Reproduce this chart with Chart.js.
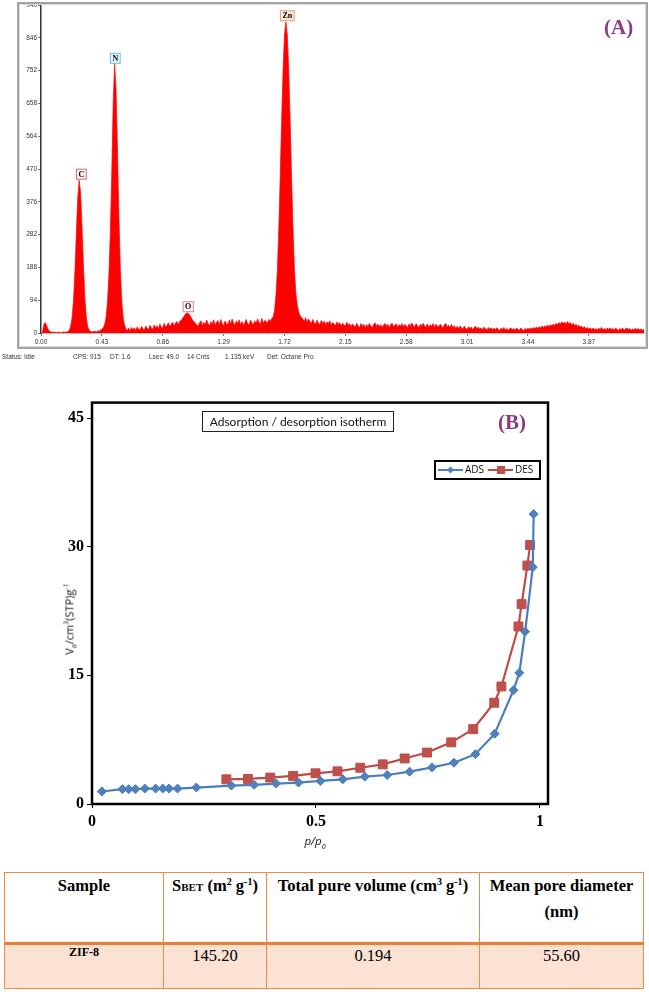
<!DOCTYPE html>
<html>
<head>
<meta charset="utf-8">
<script src="https://cdn.jsdelivr.net/npm/chart.js@4.4.1/dist/chart.umd.min.js"></script>
<style>
  body { margin: 0; background: #fff; width: 649px; height: 992px; position: relative; overflow: hidden; }
  .abs { position: absolute; }
  #frameA { left: 17px; top: 2px; width: 627px; height: 343px; border: 2px solid #a3a3a3; box-shadow: inset 0 0 0 1px #dcdcdc; }
  #status span { position: absolute; top: 353px; font: 6.5px "Liberation Sans", sans-serif; color: #333; white-space: nowrap; }
  .tag { font: bold 21px "Liberation Serif", serif; color: #8d3b86; }
  #isoTitle { left: 202px; top: 411px; width: 190px; height: 19px; border: 1px solid #222; font: 12px Lato, sans-serif; line-height: 19px; text-align: center; color: #111; }
  #yTitle { left: 70px; top: 619px; transform: translate(-50%, -50%) rotate(-90deg); font: 11px "Open Sans", sans-serif; white-space: nowrap; color: #111; }
  #yTitle sup, #xTitle sub, #yTitle sub { font-size: 7px; }
  #xTitle { left: 315px; top: 842px; transform: translate(-50%, -50%); font: italic 11.5px "Open Sans", sans-serif; color: #111; }
  #tbl { left: 4px; top: 872px; width: 640px; border-collapse: collapse; color: #000; }
  #tbl td { font-family: "Liberation Serif", "Times New Roman", serif; border: 1.5px solid #f08a46; text-align: center; vertical-align: top; padding: 0; }
  #tbl tr.hd td { height: 69px; font-weight: bold; font-size: 16.5px; line-height: 26px; background: #fff; border-bottom: 3.5px solid #ee7e35; }
  #tbl tr.dt td { height: 42px; font-size: 16.5px; line-height: 22px; background: #fbe2d3; }
  #tbl tr.dt td.zif { font-weight: bold; font-size: 12px; line-height: 12px; padding-top: 1px; }
  #tbl sup { font-size: 10px; vertical-align: 6px; line-height: 0; }
  .sc { font-size: 11px; }
</style>
</head>
<body>

<canvas id="edsCanvas" class="abs" width="649" height="350" style="left:0;top:0"></canvas>
<div id="frameA" class="abs"></div>
<div class="abs tag" style="left:604px;top:15px">(A)</div>
<div id="status"></div>

<canvas id="isoCanvas" class="abs" width="649" height="470" style="left:0;top:390px"></canvas>
<div id="isoTitle" class="abs">Adsorption / desorption isotherm</div>
<div class="abs tag" style="left:498px;top:410px">(B)</div>
<div id="yTitle" class="abs">V<sub><i>a</i></sub>/cm<sup>3</sup>(STP)g<sup>-1</sup></div>
<div id="xTitle" class="abs">p/p<sub>0</sub></div>

<table id="tbl" class="abs">
  <tr class="hd">
    <td style="width:158px">Sample</td>
    <td style="width:102px">S<span class="sc">BET</span> (m<sup>2</sup> g<sup>-1</sup>)</td>
    <td style="width:212px">Total pure volume (cm<sup>3</sup> g<sup>-1</sup>)</td>
    <td>Mean pore diameter<br>(nm)</td>
  </tr>
  <tr class="dt" id="dataRow"></tr>
</table>

<script>
// ---- (A) EDS spectrum, 0.01 keV per channel, one row = 0.1 keV ----
const edsStartKeV = 0;
const edsStepKeV = 0.01;
const edsCounts = [
  0, 0, 24, 30, 21, 11, 5, 3, 2, 3,              // 0.00
  2, 1, 3, 2, 1, 2, 3, 2, 3, 4,                  // 0.10
  8, 20, 45, 95, 180, 290, 390, 438, 400, 300,   // 0.20
  190, 100, 45, 18, 8, 4, 3, 4, 5, 3,            // 0.30
  6, 5, 8, 10, 15, 25, 45, 90, 170, 290,         // 0.40
  460, 660, 770, 700, 530, 340, 190, 95, 45, 22, // 0.50
  12, 7, 14, 6, 16, 9, 15, 7, 18, 11,            // 0.60
  9, 19, 12, 8, 20, 13, 10, 22, 14, 11,          // 0.70
  23, 14, 21, 12, 26, 16, 15, 28, 17, 22,        // 0.80
  29, 18, 25, 31, 19, 29, 33, 23, 34, 36,        // 0.90
  42, 48, 54, 58, 56, 52, 45, 38, 32, 28,        // 1.00
  24, 19, 29, 35, 21, 31, 23, 37, 27, 20,        // 1.10
  33, 24, 38, 22, 30, 36, 23, 39, 27, 21,        // 1.20
  34, 28, 23, 37, 25, 40, 29, 22, 35, 26,        // 1.30
  38, 24, 33, 21, 30, 39, 26, 23, 37, 29,        // 1.40
  24, 35, 27, 40, 30, 25, 42, 28, 36, 33,        // 1.50
  29, 39, 33, 42, 45, 65, 110, 180, 300, 447,    // 1.60
  609, 753, 854, 892, 854, 753, 609, 447, 303, 187, // 1.70
  115, 80, 60, 50, 44, 40, 34, 44, 31, 40,       // 1.80
  33, 27, 39, 30, 25, 37, 28, 24, 36, 27,        // 1.90
  34, 23, 32, 26, 35, 22, 30, 25, 21, 32,        // 2.00
  24, 30, 20, 28, 23, 19, 31, 22, 27, 18,        // 2.10
  26, 21, 17, 28, 20, 16, 27, 19, 25, 15,        // 2.20
  24, 18, 27, 20, 16, 25, 29, 19, 26, 17,        // 2.30
  24, 16, 23, 27, 19, 25, 15, 24, 28, 18,        // 2.40
  23, 26, 16, 24, 19, 27, 17, 25, 20, 15,        // 2.50
  26, 19, 29, 21, 17, 27, 20, 16, 25, 19,        // 2.60
  28, 20, 17, 26, 15, 24, 19, 27, 16, 25,        // 2.70
  20, 17, 26, 19, 15, 24, 27, 18, 22, 16,        // 2.80
  25, 15, 21, 13, 19, 12, 20, 15, 11, 19,        // 2.90
  14, 10, 18, 13, 17, 9, 16, 19, 12, 17,         // 3.00
  11, 15, 9, 17, 12, 8, 16, 11, 15, 9,           // 3.10
  14, 9, 15, 11, 7, 14, 10, 16, 8, 13,           // 3.20
  8, 12, 14, 9, 13, 7, 15, 10, 8, 14,            // 3.30
  10, 7, 13, 9, 14, 10, 15, 11, 16, 12,          // 3.40
  17, 13, 18, 14, 20, 15, 21, 17, 23, 18,        // 3.50
  24, 20, 26, 21, 28, 23, 30, 25, 32, 27,        // 3.60
  31, 26, 33, 25, 30, 23, 28, 21, 25, 19,        // 3.70
  22, 17, 19, 14, 18, 12, 16, 11, 15, 10,        // 3.80
  14, 9, 13, 8, 14, 10, 16, 9, 13, 8,            // 3.90
  14, 10, 15, 9, 13, 8, 14, 10, 7, 13,           // 4.00
  9, 14, 8, 12, 15, 9, 13, 7, 12, 8,             // 4.10
  14, 9, 13, 8, 12, 7, 11, 13, 8, 12             // 4.20
];
const edsTickKeV = [0, 0.43, 0.86, 1.29, 1.72, 2.15, 2.58, 3.01, 3.44, 3.87];
const edsCountTicks = [0, 94, 188, 282, 376, 470, 564, 658, 752, 846, 940];
const peakNames = ['C', 'N', 'O', 'Zn'];
const peakKeV = [0.285, 0.525, 1.04, 1.74];
const peakTops = [438, 770, 58, 892];
const peakBorder = ['#d86b6b', '#6cc3d6', '#e08585', '#e2a172'];
const peakFill = ['#fff2f2', '#e6f7fc', '#fff4f4', '#fbe6d6'];

const statusText = ['Status: Idle', 'CPS: 915', 'DT: 1.6', 'Lsec: 49.0', '14 Cnts', '1.135 keV', 'Det: Octane Pro'];
const statusLeft = [2, 73, 110, 149, 187, 225, 267];

// ---- (B) N2 isotherm ----
const adsP = [0.022, 0.068, 0.082, 0.097, 0.118, 0.142, 0.158, 0.172, 0.191, 0.233, 0.311, 0.362, 0.411, 0.461,
              0.51, 0.56, 0.609, 0.659, 0.709, 0.759, 0.808, 0.856, 0.899, 0.941, 0.954, 0.967, 0.984, 0.986];
const adsV = [1.46, 1.73, 1.73, 1.73, 1.8, 1.8, 1.8, 1.8, 1.8, 1.92, 2.15, 2.23, 2.38, 2.5,
              2.69, 2.88, 3.19, 3.38, 3.77, 4.27, 4.81, 5.81, 8.19, 13.27, 15.3, 20.1, 27.6, 33.8];
const desP = [0.978, 0.972, 0.959, 0.952, 0.914, 0.898, 0.851, 0.802, 0.748, 0.698, 0.649, 0.599, 0.548, 0.499,
              0.449, 0.398, 0.348, 0.3];
const desV = [30.2, 27.8, 23.3, 20.7, 13.7, 11.8, 8.73, 7.19, 6.0, 5.31, 4.62, 4.23, 3.81, 3.58,
              3.27, 3.08, 2.92, 2.88];
const isoXTicks = [0, 0.5, 1];
const isoXLabels = ['0', '0.5', '1'];
const isoYTicks = [0, 15, 30, 45];
const seriesNames = ['ADS', 'DES'];

// ---- table ----
const sampleNames = ['ZIF-8'];
const sBET = ['145.20'];
const poreVolume = ['0.194'];
const poreDiameter = ['55.60'];

// status bar
const statusBox = document.getElementById('status');
statusText.forEach((t, i) => {
  const s = document.createElement('span');
  s.textContent = t;
  s.style.left = statusLeft[i] + 'px';
  statusBox.appendChild(s);
});

// table row
document.getElementById('dataRow').innerHTML =
  '<td class="zif">' + sampleNames[0] + '</td><td>' + sBET[0] + '</td><td>' + poreVolume[0] + '</td><td>' + poreDiameter[0] + '</td>';

// peak label boxes on the spectrum
const peakLabelPlugin = {
  id: 'peakLabels',
  afterDatasetsDraw(chart) {
    const ctx = chart.ctx;
    const xs = chart.scales.x, ys = chart.scales.y;
    ctx.save();
    ctx.font = 'bold 8px "Liberation Serif", serif';
    ctx.textAlign = 'center';
    ctx.textBaseline = 'middle';
    peakNames.forEach((name, i) => {
      const px = xs.getPixelForValue(peakKeV[i]);
      const py = ys.getPixelForValue(peakTops[i]);
      const w = ctx.measureText(name).width + 4;
      ctx.fillStyle = peakFill[i];
      ctx.strokeStyle = peakBorder[i];
      ctx.lineWidth = 1;
      ctx.fillRect(px - w / 2, py - 11, w, 10);
      ctx.strokeRect(px - w / 2, py - 11, w, 10);
      ctx.fillStyle = '#000';
      ctx.fillText(name, px, py - 5.5);
    });
    ctx.restore();
  }
};

new Chart(document.getElementById('edsCanvas'), {
  type: 'line',
  data: {
    datasets: [{
      data: edsCounts.map((c, i) => ({ x: edsStartKeV + i * edsStepKeV, y: c })),
      borderColor: '#ff0000',
      backgroundColor: '#ff0000',
      borderWidth: 0.7,
      pointRadius: 0,
      fill: 'origin',
      tension: 0
    }]
  },
  options: {
    responsive: false,
    animation: false,
    layout: { padding: { left: 0, right: 5, top: 5, bottom: 0 } },
    plugins: { legend: { display: false }, tooltip: { enabled: false } },
    scales: {
      x: {
        type: 'linear', min: 0, max: 4.26,
        afterFit(s) { s.height = 17; },
        afterBuildTicks(s) { s.ticks = edsTickKeV.map(v => ({ value: v })); },
        ticks: { callback: v => v.toFixed(2), font: { family: 'Liberation Sans', size: 6.5 }, color: '#333', padding: 2, maxRotation: 0, autoSkip: false },
        grid: { drawOnChartArea: false, tickLength: 3, color: '#777' },
        border: { color: '#bbb', width: 1 }
      },
      y: {
        min: 0, max: 940,
        afterFit(s) { s.width = 41; },
        afterBuildTicks(s) { s.ticks = edsCountTicks.map(v => ({ value: v })); },
        ticks: { font: { family: 'Liberation Sans', size: 6.5 }, color: '#333', padding: 1, autoSkip: false },
        grid: { drawOnChartArea: false, tickLength: 3, color: '#777' },
        border: { color: '#333', width: 1.5 }
      }
    }
  },
  plugins: [peakLabelPlugin]
});

// plot box and legend of the isotherm
const isoDecor = {
  id: 'isoDecor',
  beforeDatasetsDraw(chart) {
    const { ctx, chartArea: a } = chart;
    ctx.save();
    ctx.strokeStyle = '#000';
    ctx.lineWidth = 2.5;
    ctx.strokeRect(a.left, a.top, a.right - a.left, a.bottom - a.top);
    ctx.restore();
  },
  afterDatasetsDraw(chart) {
    const ctx = chart.ctx;
    const top = 71, left = 435;
    ctx.save();
    ctx.fillStyle = '#fff';
    ctx.fillRect(left, top, 105, 18);
    ctx.strokeStyle = '#000';
    ctx.lineWidth = 2;
    ctx.strokeRect(left, top, 105, 18);
    ctx.font = '10px "Open Sans", sans-serif';
    ctx.textBaseline = 'middle';
    chart.data.datasets.forEach((ds, i) => {
      const x0 = left + 3 + i * 50, cy = top + 9;
      ctx.strokeStyle = ds.borderColor;
      ctx.lineWidth = 2;
      ctx.beginPath(); ctx.moveTo(x0, cy); ctx.lineTo(x0 + 25, cy); ctx.stroke();
      ctx.fillStyle = ds.pointBackgroundColor;
      ctx.beginPath();
      if (i === 0) {
        ctx.moveTo(x0 + 12.5, cy - 3.5); ctx.lineTo(x0 + 16, cy); ctx.lineTo(x0 + 12.5, cy + 3.5); ctx.lineTo(x0 + 9, cy);
      } else {
        ctx.rect(x0 + 9, cy - 4, 8, 8);
      }
      ctx.fill();
      ctx.fillStyle = '#111';
      ctx.fillText(ds.label, x0 + 27, cy + 0.5);
    });
    ctx.restore();
  }
};

new Chart(document.getElementById('isoCanvas'), {
  type: 'scatter',
  data: {
    datasets: [
      {
        label: seriesNames[0],
        data: adsP.map((p, i) => ({ x: p, y: adsV[i] })),
        showLine: true,
        borderColor: '#4a7ebb',
        borderWidth: 2.2,
        pointStyle: 'rectRot',
        pointRadius: 4.5,
        pointBackgroundColor: '#4f81bd',
        pointBorderColor: '#4a7ebb',
        pointBorderWidth: 1
      },
      {
        label: seriesNames[1],
        data: desP.map((p, i) => ({ x: p, y: desV[i] })),
        showLine: true,
        borderColor: '#be4b48',
        borderWidth: 2.2,
        pointStyle: 'rect',
        pointRadius: 6.3,
        pointBackgroundColor: '#c0504d',
        pointBorderColor: '#be4b48',
        pointBorderWidth: 1
      }
    ]
  },
  options: {
    responsive: false,
    animation: false,
    clip: false,
    layout: { padding: { left: 0, right: 101, top: 9, bottom: 0 } },
    plugins: { legend: { display: false }, tooltip: { enabled: false } },
    scales: {
      x: {
        type: 'linear', min: 0, max: 1.018,
        afterFit(s) { s.height = 56; },
        afterBuildTicks(s) { s.ticks = isoXTicks.map(v => ({ value: v })); },
        ticks: { callback: (v, i) => isoXLabels[i], font: { family: 'Liberation Serif', size: 16, weight: 'bold' }, color: '#000', padding: 4, maxRotation: 0, autoSkip: false },
        grid: { drawOnChartArea: false, tickLength: 4, color: '#000' },
        border: { display: false }
      },
      y: {
        min: 0, max: 46.8,
        afterFit(s) { s.width = 92; },
        afterBuildTicks(s) { s.ticks = isoYTicks.map(v => ({ value: v })); },
        ticks: { font: { family: 'Liberation Serif', size: 16, weight: 'bold' }, color: '#000', padding: 3, autoSkip: false },
        grid: { drawOnChartArea: false, tickLength: 5, color: '#000' },
        border: { display: false }
      }
    }
  },
  plugins: [isoDecor]
});
</script>
</body>
</html>
